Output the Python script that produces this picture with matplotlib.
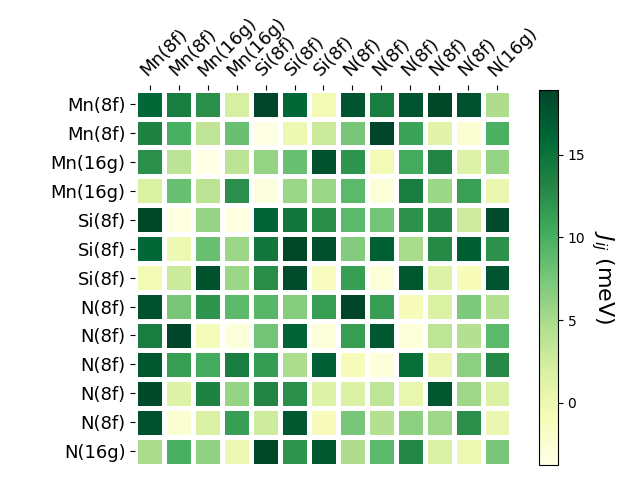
import numpy as np
import matplotlib
matplotlib.use("Agg")
import matplotlib.pyplot as plt

# site labels (rows and columns use the same list)
sites = ["Mn(8f)", "Mn(8f)", "Mn(16g)", "Mn(16g)", "Si(8f)", "Si(8f)", "Si(8f)",
         "N(8f)", "N(8f)", "N(8f)", "N(8f)", "N(8f)", "N(16g)"]

# exchange couplings J_ij in meV, read row by row
row_mn1 = [16.0, 14.0, 12.5, 2.0, 18.9, 16.0, -0.5, 17.5, 14.0, 17.5, 18.7, 17.8, 4.7]
row_mn2 = [13.5, 10.0, 3.5, 8.3, -3.5, 0.0, 2.8, 7.5, 18.9, 11.0, 1.0, -2.5, 9.8]
row_mn3 = [12.5, 3.7, -3.76, 3.7, 6.0, 8.3, 17.8, 12.0, -0.5, 10.4, 13.2, 1.5, 6.0]
row_mn4 = [1.8, 8.3, 3.8, 12.5, -3.2, 5.7, 5.7, 9.0, -2.8, 14.0, 5.7, 11.2, 0.3]
row_si1 = [18.7, -3.3, 6.0, -3.3, 16.3, 14.5, 12.7, 9.0, 7.8, 12.3, 13.0, 2.6, 18.3]
row_si2 = [16.0, 0.0, 8.3, 5.7, 14.5, 18.8, 18.0, 6.9, 16.6, 5.0, 12.8, 16.8, 12.2]
row_si3 = [-0.5, 2.8, 17.8, 5.7, 12.7, 18.3, -1.2, 11.3, -2.8, 17.4, 1.5, -0.9, 17.6]
row_n1 = [17.8, 7.5, 12.0, 9.0, 9.2, 6.8, 11.3, 18.9, 11.3, -1.0, 1.8, 7.3, 4.3]
row_n2 = [14.0, 18.9, -0.7, -3.0, 7.8, 16.5, -3.0, 11.3, 17.4, -3.0, 3.6, 4.3, 9.0]
row_n3 = [17.4, 11.3, 10.4, 14.0, 11.5, 4.8, 16.7, -1.0, -3.0, 15.3, 0.3, 6.4, 12.8]
row_n4 = [18.5, 1.3, 13.5, 6.0, 13.2, 12.5, 1.3, 1.8, 3.6, 0.5, 17.4, 5.5, 1.8]
row_n5 = [17.8, -2.4, 1.9, 11.3, 2.6, 17.4, -1.1, 7.6, 4.3, 6.4, 5.5, 12.5, 0.3]
row_n6 = [4.9, 10.0, 6.3, 0.0, 18.8, 12.0, 17.4, 4.7, 9.0, 13.0, 1.9, 0.0, 7.5]

J = np.array([row_mn1, row_mn2, row_mn3, row_mn4, row_si1, row_si2, row_si3,
              row_n1, row_n2, row_n3, row_n4, row_n5, row_n6])

fig = plt.figure(figsize=(6.4, 4.8), dpi=100)
ax = fig.add_axes([0.2116, 0.0292, 0.5875, 0.785])
cax = fig.add_axes([0.842, 0.031, 0.0297, 0.781])

mesh = ax.pcolormesh(J, cmap="YlGn", vmin=J.min(), vmax=J.max(),
                     edgecolors="white", linewidth=3.4)
ax.set_xlim(0, len(sites))
ax.set_ylim(len(sites), 0)
ax.set_aspect("equal")

ticks = np.arange(len(sites)) + 0.5
ax.xaxis.tick_top()
ax.set_xticks(ticks)
ax.set_xticklabels(sites, fontsize=13)
plt.setp(ax.get_xticklabels(), rotation=45, ha="left", rotation_mode="anchor")
ax.set_yticks(ticks)
ax.set_yticklabels(sites, fontsize=13)
for s in ax.spines.values():
    s.set_visible(False)

cbar = fig.colorbar(mesh, cax=cax)
cbar.set_label(r"$J_{ij}$ (meV)", rotation=270, fontsize=16, labelpad=22)

fig.savefig("out.png", dpi=100)
